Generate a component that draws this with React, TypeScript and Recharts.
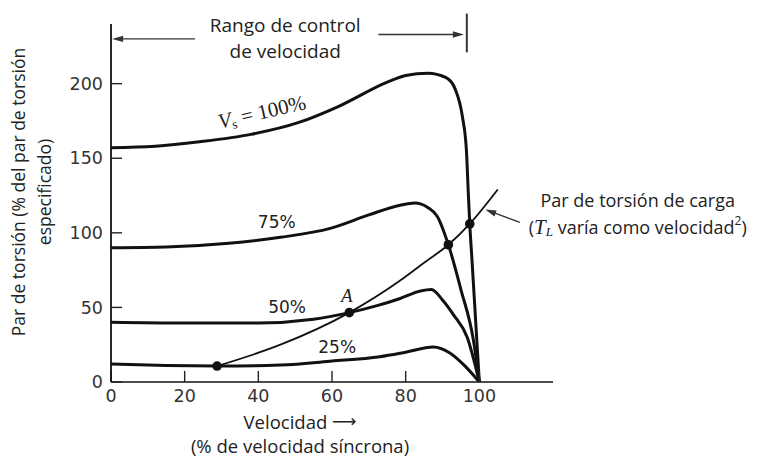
import React from 'react';
import {
  ComposedChart,
  Line,
  XAxis,
  YAxis,
  Scatter,
  ReferenceLine,
  ReferenceDot,
} from 'recharts';

// ---- Data ----
const xTicks = [0, 20, 40, 60, 80, 100];
const yTicks = [0, 50, 100, 150, 200];

const curve100 = [
  { x: 0, y: 157 }, { x: 12, y: 158 }, { x: 24, y: 161 }, { x: 38, y: 166 },
  { x: 51, y: 174 }, { x: 62, y: 185 }, { x: 75, y: 201 }, { x: 80, y: 205.5 },
  { x: 86, y: 207 }, { x: 91, y: 204 }, { x: 93.5, y: 196 }, { x: 95.4, y: 178 },
  { x: 96.5, y: 155 }, { x: 97, y: 127 }, { x: 97.4, y: 106 }, { x: 98, y: 82 },
  { x: 100, y: 0 },
];

const curve75 = [
  { x: 0, y: 90 }, { x: 15, y: 90.5 }, { x: 32, y: 93 }, { x: 46, y: 97 },
  { x: 59.5, y: 103 }, { x: 70, y: 112 }, { x: 78.5, y: 118.5 }, { x: 82.5, y: 120 },
  { x: 86, y: 117 }, { x: 88.6, y: 111 }, { x: 91.6, y: 92 }, { x: 95, y: 62 },
  { x: 98.4, y: 28 }, { x: 100, y: 0 },
];

const curve50 = [
  { x: 0, y: 40 }, { x: 20, y: 39.5 }, { x: 40, y: 39.5 }, { x: 55, y: 42 },
  { x: 64.7, y: 46.5 }, { x: 72, y: 51 }, { x: 78.5, y: 56 }, { x: 84, y: 61 },
  { x: 87, y: 62 }, { x: 90, y: 55 }, { x: 93, y: 45 }, { x: 96.7, y: 30 },
  { x: 100, y: 0 },
];

const curve25 = [
  { x: 0, y: 12 }, { x: 15, y: 11 }, { x: 28.8, y: 10.7 }, { x: 46, y: 11.4 },
  { x: 60, y: 14 }, { x: 73, y: 17 }, { x: 80, y: 20 }, { x: 87.5, y: 23.5 },
  { x: 92, y: 19.5 }, { x: 96, y: 11 }, { x: 100, y: 0 },
];

const loadCurve = [
  { x: 28.8, y: 10.7 }, { x: 46, y: 25 }, { x: 64.7, y: 46.5 }, { x: 78.5, y: 68 },
  { x: 85, y: 80 }, { x: 91.6, y: 92 }, { x: 97.4, y: 106 }, { x: 105, y: 129 },
];

const operatingPoints = [
  { x: 28.8, y: 10.7 }, { x: 64.7, y: 46.5 }, { x: 91.6, y: 92 }, { x: 97.4, y: 106 },
];

// ---- Styles ----
const FONT_SANS = '"Open Sans", "Noto Sans", sans-serif';
const FONT_TICK = '"DejaVu Sans", sans-serif';
const FONT_SERIF = '"Liberation Serif", "DejaVu Serif", serif';
const INK = '#111';
const TEXT = '#222';

const Arrow = (props: any) => {
  const { x1, y1, x2, y2 } = props;
  if ([x1, y1, x2, y2].some((v) => typeof v !== 'number' || isNaN(v))) return null;
  const stroke = '#333';
  const ang = Math.atan2(y2 - y1, x2 - x1);
  const len = 11;
  const hw = 3.2;
  const bx = x2 - len * Math.cos(ang);
  const by = y2 - len * Math.sin(ang);
  const px = -Math.sin(ang) * hw;
  const py = Math.cos(ang) * hw;
  return (
    <g>
      <line x1={x1} y1={y1} x2={bx + 2 * Math.cos(ang)} y2={by + 2 * Math.sin(ang)} stroke={stroke} strokeWidth={1.4} />
      <polygon points={`${x2},${y2} ${bx + px},${by + py} ${bx - px},${by - py}`} fill={stroke} />
    </g>
  );
};

const PlainSeg = (props: any) => {
  const { x1, y1, x2, y2 } = props;
  return <line x1={x1} y1={y1} x2={x2} y2={y2} stroke="#333" strokeWidth={2} />;
};

const textShape = (content: React.ReactNode, extra: any = {}) => (p: any) => (
  <text
    x={p.cx}
    y={p.cy}
    textAnchor="middle"
    dominantBaseline="central"
    fill={TEXT}
    {...extra}
  >
    {content}
  </text>
);

const RangeTitle = (p: any) => (
  <text textAnchor="middle" fill={TEXT} fontFamily={FONT_SANS} fontSize={19}>
    <tspan x={p.cx} y={p.cy} dominantBaseline="central">Rango de control</tspan>
    <tspan x={p.cx} y={p.cy + 26} dominantBaseline="central">de velocidad</tspan>
  </text>
);

const LoadTitle = (p: any) => (
  <text textAnchor="middle" fill={TEXT} fontFamily={FONT_SANS} fontSize={18}>
    <tspan x={p.cx} y={p.cy} dominantBaseline="central">Par de torsión de carga</tspan>
    <tspan x={p.cx} y={p.cy + 27} dominantBaseline="central">
      (<tspan fontFamily={FONT_SERIF} fontStyle="italic" fontSize={21}>T</tspan>
      <tspan fontFamily={FONT_SERIF} fontStyle="italic" fontSize={13} dy={4}>L</tspan>
      <tspan dy={-4}> varía como velocidad</tspan>
      <tspan fontSize={12} dy={-7}>2</tspan>
      <tspan dy={7}>)</tspan>
    </tspan>
  </text>
);

const VsLabel = (p: any) => (
  <text
    x={p.cx}
    y={p.cy}
    textAnchor="middle"
    dominantBaseline="central"
    fill={TEXT}
    fontFamily={FONT_SERIF}
    fontSize={21}
    transform={`rotate(-13 ${p.cx} ${p.cy})`}
  >
    <tspan fontStyle="italic">V</tspan>
    <tspan fontSize={13} dy={5}>s</tspan>
    <tspan dy={-5}>{'  =  100%'}</tspan>
  </text>
);

const YTitle = (props: any) => {
  const vb = props.viewBox || {};
  const cy = vb.y + 168;
  const x1 = vb.x - 33;
  const x2 = vb.x - 7;
  return (
    <g fill={TEXT} fontFamily={FONT_SANS} fontSize={17.5}>
      <text x={x1} y={cy} textAnchor="middle" dominantBaseline="central" transform={`rotate(-90 ${x1} ${cy})`}>
        Par de torsión (% del par de torsión
      </text>
      <text x={x2} y={cy} textAnchor="middle" dominantBaseline="central" transform={`rotate(-90 ${x2} ${cy})`}>
        especificado)
      </text>
    </g>
  );
};

const XTitle = (props: any) => {
  const vb = props.viewBox || {};
  const cx = vb.x + 189;
  return (
    <g fill={TEXT} fontFamily={FONT_SANS} fontSize={18.5}>
      <text x={cx} y={vb.y + 39} textAnchor="middle" dominantBaseline="central">
        Velocidad <tspan fontFamily={FONT_TICK} fontSize={17}>⟶</tspan>
      </text>
      <text x={cx} y={vb.y + 63} textAnchor="middle" dominantBaseline="central">(% de velocidad síncrona)</text>
    </g>
  );
};

const curveLabel = { fontFamily: FONT_TICK, fontSize: 17 };

export default function App() {
  return (
    <div style={{ width: 757, height: 457, marginLeft: -8, marginTop: -8, background: '#fff' }}>
      <ComposedChart
        width={757}
        height={457}
        margin={{ top: 24, right: 204, bottom: 45, left: 51 }}
      >
        <XAxis
          dataKey="x"
          type="number"
          domain={[0, 120]}
          ticks={xTicks}
          allowDataOverflow
          height={30}
          tickSize={-11}
          tickMargin={19}
          tick={{ fontSize: 17.5, fontFamily: FONT_TICK, fill: '#333' }}
          axisLine={{ stroke: INK, strokeWidth: 1.6 }}
          tickLine={{ stroke: '#222', strokeWidth: 1.4 }}
          label={XTitle}
        />
        <YAxis
          dataKey="y"
          type="number"
          domain={[0, 240]}
          ticks={yTicks}
          allowDataOverflow
          width={60}
          tickSize={-11}
          tickMargin={19}
          tick={{ fontSize: 17.5, fontFamily: FONT_TICK, fill: '#333' }}
          axisLine={{ stroke: INK, strokeWidth: 1.8 }}
          tickLine={{ stroke: '#222', strokeWidth: 1.4 }}
          label={YTitle}
        />

        <Line data={curve100} dataKey="y" type="monotone" stroke={INK} strokeWidth={3} dot={false} activeDot={false} isAnimationActive={false} />
        <Line data={curve75} dataKey="y" type="monotone" stroke={INK} strokeWidth={3} dot={false} activeDot={false} isAnimationActive={false} />
        <Line data={curve50} dataKey="y" type="monotone" stroke={INK} strokeWidth={3} dot={false} activeDot={false} isAnimationActive={false} />
        <Line data={curve25} dataKey="y" type="monotone" stroke={INK} strokeWidth={3} dot={false} activeDot={false} isAnimationActive={false} />
        <Line data={loadCurve} dataKey="y" type="monotone" stroke={INK} strokeWidth={1.8} dot={false} activeDot={false} isAnimationActive={false} />
        <Scatter
          data={operatingPoints}
          dataKey="y"
          isAnimationActive={false}
          shape={(p: any) => <circle cx={p.cx} cy={p.cy} r={4.8} fill={INK} />}
        />

        {/* Speed control range arrows */}
        <ReferenceLine segment={[{ x: 22.8, y: 230 }, { x: 0.3, y: 230 }]} ifOverflow="visible" shape={Arrow} />
        <ReferenceLine segment={[{ x: 72.6, y: 233 }, { x: 95.8, y: 233 }]} ifOverflow="visible" shape={Arrow} />
        <ReferenceLine segment={[{ x: 96.6, y: 221 }, { x: 96.6, y: 247 }]} ifOverflow="visible" shape={PlainSeg} />
        {/* Load torque pointer */}
        <ReferenceLine segment={[{ x: 111, y: 107 }, { x: 101.6, y: 115.6 }]} ifOverflow="visible" shape={Arrow} />

        {/* Text annotations */}
        <ReferenceDot x={47.3} y={239} ifOverflow="visible" shape={RangeTitle} />
        <ReferenceDot x={41} y={181} ifOverflow="visible" shape={VsLabel} />
        <ReferenceDot x={45} y={107} ifOverflow="visible" shape={textShape('75%', curveLabel)} />
        <ReferenceDot x={47.8} y={50.3} ifOverflow="visible" shape={textShape('50%', curveLabel)} />
        <ReferenceDot x={64} y={58} ifOverflow="visible" shape={textShape('A', { fontFamily: FONT_SERIF, fontStyle: 'italic', fontSize: 19 })} />
        <ReferenceDot x={61.4} y={23.5} ifOverflow="visible" shape={textShape('25%', curveLabel)} />
        <ReferenceDot x={143} y={122} ifOverflow="visible" shape={LoadTitle} />
      </ComposedChart>
    </div>
  );
}
